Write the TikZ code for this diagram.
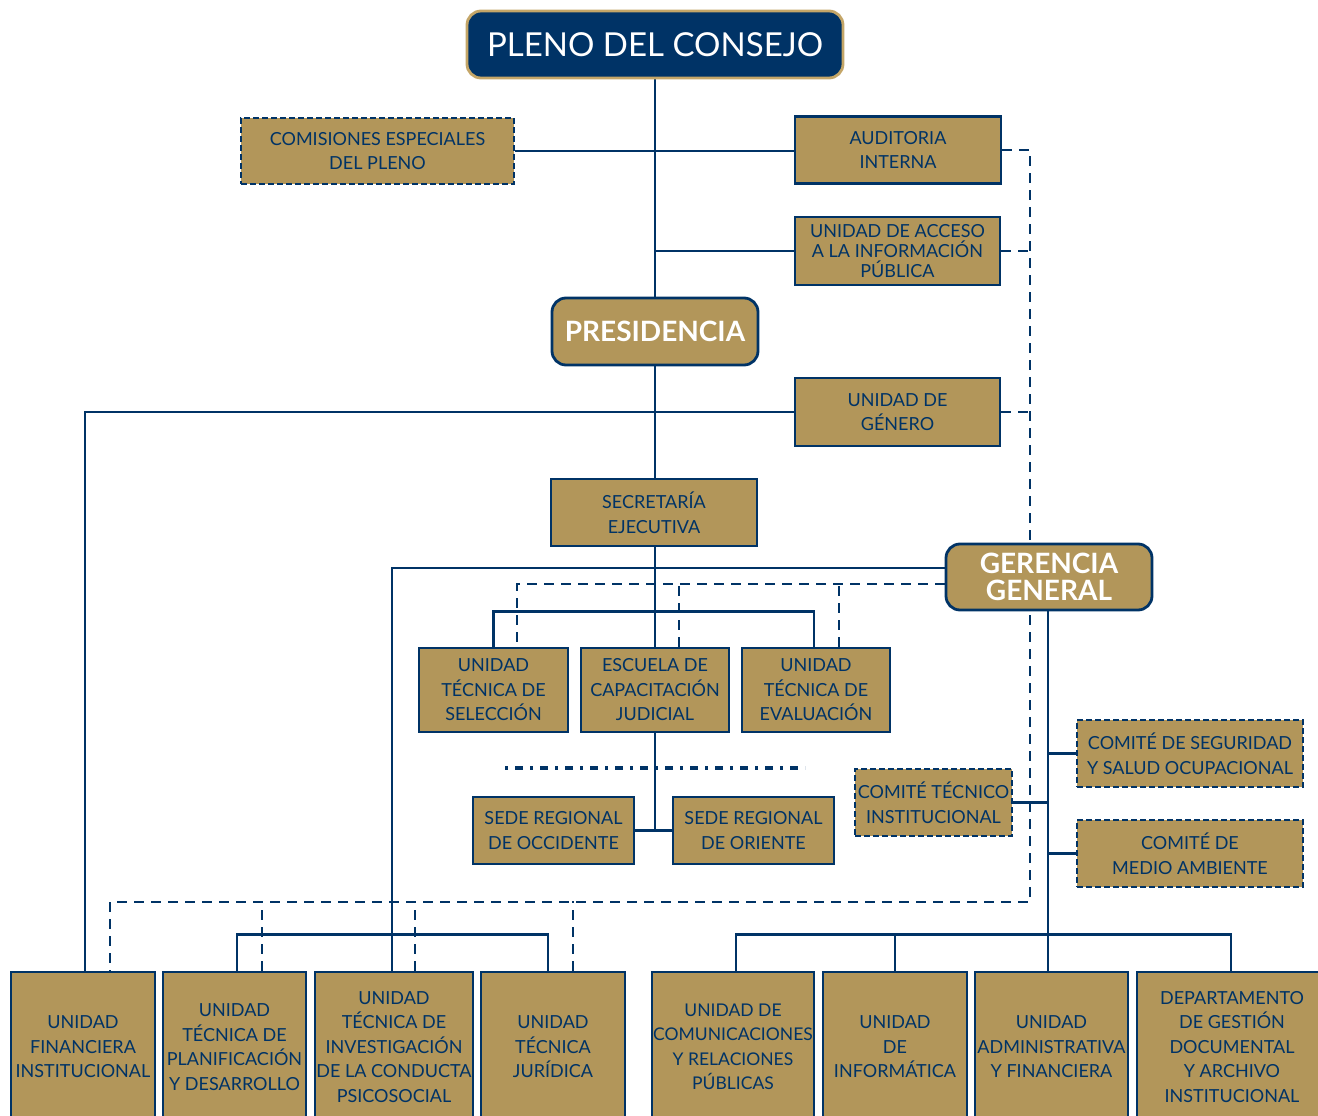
\documentclass[tikz,border=0pt]{standalone}
\usepackage{fontspec}
\setmainfont{Lato}
\usepackage{tikz}
\usetikzlibrary{backgrounds}

\definecolor{navy}{RGB}{0,51,102}
\definecolor{gold}{RGB}{178,150,90}
\definecolor{goldline}{RGB}{196,166,104}

\tikzset{
  unit/.style={draw=navy, fill=gold, line width=2.8pt, text=navy, align=center,
    inner sep=0pt, font=\fontsize{18}{24.5}\selectfont},
  comite/.style={unit, dash pattern=on 6pt off 3pt},
  mando/.style={unit, rounded corners=14pt, text=white,
    font=\bfseries\fontsize{28}{27}\selectfont},
  base/.style={unit, minimum height=150},
  lnk/.style={navy, line width=2.8pt},
  dlnk/.style={lnk, dash pattern=on 10pt off 7pt}
}

\begin{document}
\begin{tikzpicture}[x=1pt, y=-1pt]
  \useasboundingbox (0,0) rectangle (1318,1116);
  \clip (0,0) rectangle (1318,1116);

  % upper part
  \node [unit, fill=navy, draw=goldline, rounded corners=14pt, text=white,
         font=\fontsize{33}{33}\selectfont, minimum width=376, minimum height=67]
        (pleno) at (655,44.5) {PLENO DEL CONSEJO};
  \node [comite, minimum width=273, minimum height=66] (comis) at (377.5,151)
        {COMISIONES ESPECIALES\\DEL PLENO};
  \node [unit, minimum width=206, minimum height=67] (audit) at (898,150)
        {AUDITORIA\\INTERNA};
  \node [unit, minimum width=205, minimum height=68, font=\fontsize{18}{20}\selectfont]
        (acceso) at (897.5,251) {UNIDAD DE ACCESO\\A LA INFORMACIÓN\\PÚBLICA};
  \node [mando, minimum width=206, minimum height=67] (presi) at (655,331.5) {PRESIDENCIA};
  \node [unit, minimum width=205, minimum height=68] (genero) at (897.5,412)
        {UNIDAD DE\\GÉNERO};
  \node [unit, minimum width=206, minimum height=67] (secre) at (654,512.5)
        {SECRETARÍA\\EJECUTIVA};
  \node [mando, minimum width=206, minimum height=66] (geren) at (1049,577)
        {GERENCIA\\GENERAL};

  % middle part
  \node [unit, minimum width=149, minimum height=84] (selec) at (493.5,690)
        {UNIDAD\\TÉCNICA DE\\SELECCIÓN};
  \node [unit, minimum width=148, minimum height=84] (escuela) at (655,690)
        {ESCUELA DE\\CAPACITACIÓN\\JUDICIAL};
  \node [unit, minimum width=148, minimum height=84] (evalu) at (816,690)
        {UNIDAD\\TÉCNICA DE\\EVALUACIÓN};
  \node [unit, minimum width=161, minimum height=67] (occid) at (553.5,830.5)
        {SEDE REGIONAL\\DE OCCIDENTE};
  \node [unit, minimum width=161, minimum height=67] (orient) at (753.5,830.5)
        {SEDE REGIONAL\\DE ORIENTE};
  \node [comite, minimum width=157, minimum height=67] (ctec) at (933.5,802.5)
        {COMITÉ TÉCNICO\\INSTITUCIONAL};
  \node [comite, minimum width=226, minimum height=67] (cseg) at (1190,753.5)
        {COMITÉ DE SEGURIDAD\\Y SALUD OCUPACIONAL};
  \node [comite, minimum width=226, minimum height=67] (cmed) at (1190,853.5)
        {COMITÉ DE\\MEDIO AMBIENTE};

  % bottom row
  \node [base, minimum width=144] (fin) at (83,1047) {UNIDAD\\FINANCIERA\\INSTITUCIONAL};
  \node [base, minimum width=143] (plan) at (234.5,1047)
        {UNIDAD\\TÉCNICA DE\\PLANIFICACIÓN\\Y DESARROLLO};
  \node [base, minimum width=158] (inv) at (394,1047)
        {UNIDAD\\TÉCNICA DE\\INVESTIGACIÓN\\DE LA CONDUCTA\\PSICOSOCIAL};
  \node [base, minimum width=144] (jur) at (553,1047) {UNIDAD\\TÉCNICA\\JURÍDICA};
  \node [base, minimum width=162, font=\fontsize{17.5}{24.5}\selectfont] (com) at (733,1047)
        {UNIDAD DE\\COMUNICACIONES\\Y RELACIONES\\PÚBLICAS};
  \node [base, minimum width=144] (inf) at (895,1047) {UNIDAD\\DE\\INFORMÁTICA};
  \node [base, minimum width=153] (adm) at (1051.5,1047)
        {UNIDAD\\ADMINISTRATIVA\\Y FINANCIERA};
  \node [base, minimum width=190] (dep) at (1232,1047)
        {DEPARTAMENTO\\DE GESTIÓN\\DOCUMENTAL\\Y ARCHIVO\\INSTITUCIONAL};

  \coordinate (rx) at (1030,902);
  \coordinate (dd1) at (505,768);
  \coordinate (dd2) at (805,768);

  \begin{scope}[on background layer]
    % solid lines
    \draw [lnk] (pleno) -- (presi) -- (escuela);
    \draw [lnk] (comis.east) -- (comis.east -| audit.west);
    \draw [lnk] (acceso.west) -- (acceso.west -| pleno.south);
    \draw [lnk] (genero.west) -| ([xshift=2pt]fin.north);
    \draw [lnk] ([yshift=9pt]geren.west) -| ([xshift=-2pt]inv.north);
    \draw [lnk] (selec.north) -- ++(0,-35) -| ([xshift=-2pt]evalu.north);
    \draw [lnk] (escuela.south) -- (escuela.south |- occid.east);
    \draw [lnk] (occid) -- (orient);
    \draw [lnk] ([xshift=-1pt]geren.south) -- ([xshift=-1pt]geren.south |- adm.north);
    \draw [lnk] (cseg.west) -- (cseg.west -| geren.south);
    \draw [lnk] (cmed.west) -- (cmed.west -| geren.south);
    \draw [lnk] (ctec.east) -- (ctec.east -| geren.south);
    \draw [lnk] ([xshift=2.5pt]plan.north) -- ++(0,-36) -| ([xshift=-5pt]jur.north);
    \draw [lnk] ([xshift=3pt]com.north) -- ++(0,-36) -| ([xshift=-1pt]dep.north);
    \draw [lnk] (inf.north) -- ++(0,-36);
    % dashed lines
    \draw [dlnk] (audit.east) -| (rx) -| ([xshift=27pt]fin.north);
    \draw [dlnk] (acceso.east) -- (acceso.east -| rx);
    \draw [dlnk] (genero.east) -- (genero.east -| rx);
    \draw [dlnk] ([xshift=27.5pt]plan.north) -- ++(0,-70);
    \draw [dlnk] ([xshift=21pt]inv.north) -- ++(0,-70);
    \draw [dlnk] ([xshift=20pt]jur.north) -- ++(0,-70);
    \draw [dlnk] ([yshift=-7pt]geren.west) -| ([xshift=23.5pt]selec.north);
    \draw [dlnk] ([xshift=24pt]escuela.north) -- ++(0,-64);
    \draw [dlnk] ([xshift=23pt]evalu.north) -- ++(0,-64);
    \draw [navy, line width=3.5pt, dash pattern=on 3pt off 7pt on 8pt off 7pt] (dd1) -- (dd2);
  \end{scope}
\end{tikzpicture}
\end{document}
